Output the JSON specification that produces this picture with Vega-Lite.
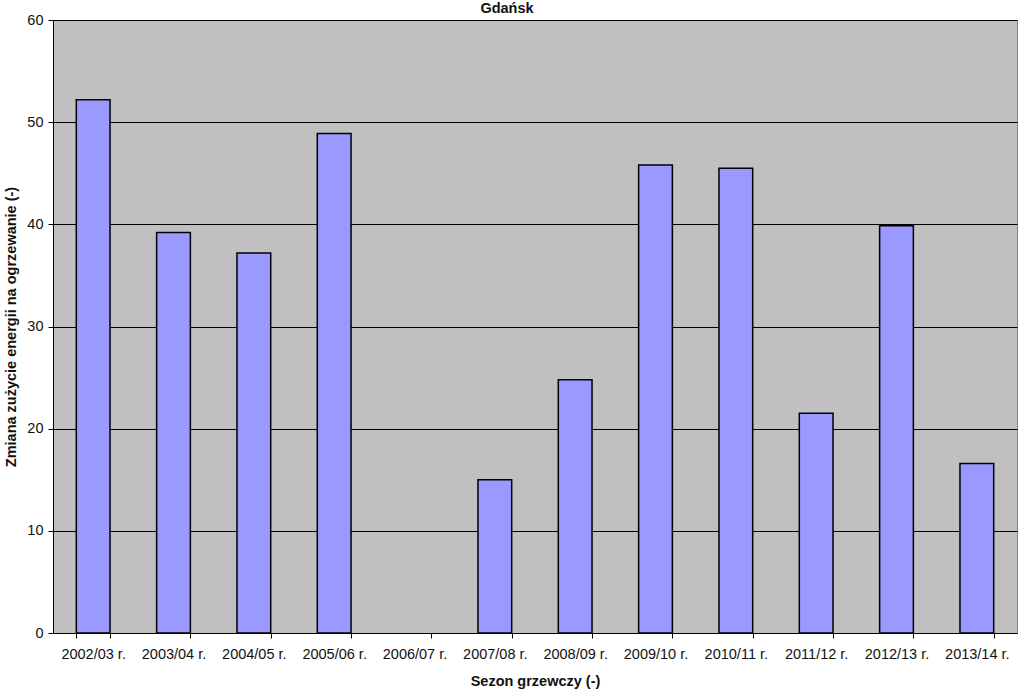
{
  "$schema": "https://vega.github.io/schema/vega-lite/v6.json",
  "autosize": "none",
  "padding": {"left": 53, "top": 20, "right": 7, "bottom": 56},
  "width": 964,
  "height": 613,
  "background": "white",
  "title": {
    "text": "Gdańsk",
    "font": "Liberation Sans",
    "fontSize": 14.5,
    "fontWeight": "bold",
    "color": "#111",
    "anchor": "middle",
    "dx": -28,
    "dy": 15,
    "baseline": "alphabetic",
    "offset": 0
  },
  "config": {
    "view": {"fill": "#c0c0c0", "stroke": "#808080", "strokeWidth": 1},
    "axis": {
      "labelFont": "Liberation Sans",
      "titleFont": "Liberation Sans",
      "labelFontSize": 14.5,
      "titleFontSize": 14.5,
      "labelColor": "#111",
      "titleColor": "#111",
      "domainColor": "#000",
      "tickColor": "#000",
      "tickSize": 5
    }
  },
  "data": {
    "values": [
      {"sezon": "2002/03 r.", "zmiana": 52.2},
      {"sezon": "2003/04 r.", "zmiana": 39.2},
      {"sezon": "2004/05 r.", "zmiana": 37.2},
      {"sezon": "2005/06 r.", "zmiana": 48.9},
      {"sezon": "2006/07 r.", "zmiana": null},
      {"sezon": "2007/08 r.", "zmiana": 15.0},
      {"sezon": "2008/09 r.", "zmiana": 24.8},
      {"sezon": "2009/10 r.", "zmiana": 45.8},
      {"sezon": "2010/11 r.", "zmiana": 45.5},
      {"sezon": "2011/12 r.", "zmiana": 21.5},
      {"sezon": "2012/13 r.", "zmiana": 39.85},
      {"sezon": "2013/14 r.", "zmiana": 16.6}
    ]
  },
  "mark": {"type": "bar", "fill": "#9999ff", "stroke": "#000", "strokeWidth": 1.5},
  "encoding": {
    "x": {
      "field": "sezon",
      "type": "nominal",
      "sort": null,
      "title": "Sezon grzewczy (-)",
      "scale": {
        "domain": ["2002/03 r.", "2003/04 r.", "2004/05 r.", "2005/06 r.", "2006/07 r.", "2007/08 r.", "2008/09 r.", "2009/10 r.", "2010/11 r.", "2011/12 r.", "2012/13 r.", "2013/14 r."],
        "paddingInner": 0.58,
        "paddingOuter": 0.29
      },
      "axis": {
        "labelAngle": 0,
        "tickBand": "extent",
        "labelPadding": 9,
        "titlePadding": 14,
        "grid": false
      }
    },
    "y": {
      "field": "zmiana",
      "type": "quantitative",
      "title": "Zmiana zużycie energii na ogrzewanie (-)",
      "scale": {"domain": [0, 60], "nice": false},
      "axis": {
        "values": [0, 10, 20, 30, 40, 50, 60],
        "grid": true,
        "gridColor": "#000",
        "gridOpacity": 1,
        "gridWidth": 1,
        "labelPadding": 5,
        "titlePadding": 8
      }
    }
  }
}
